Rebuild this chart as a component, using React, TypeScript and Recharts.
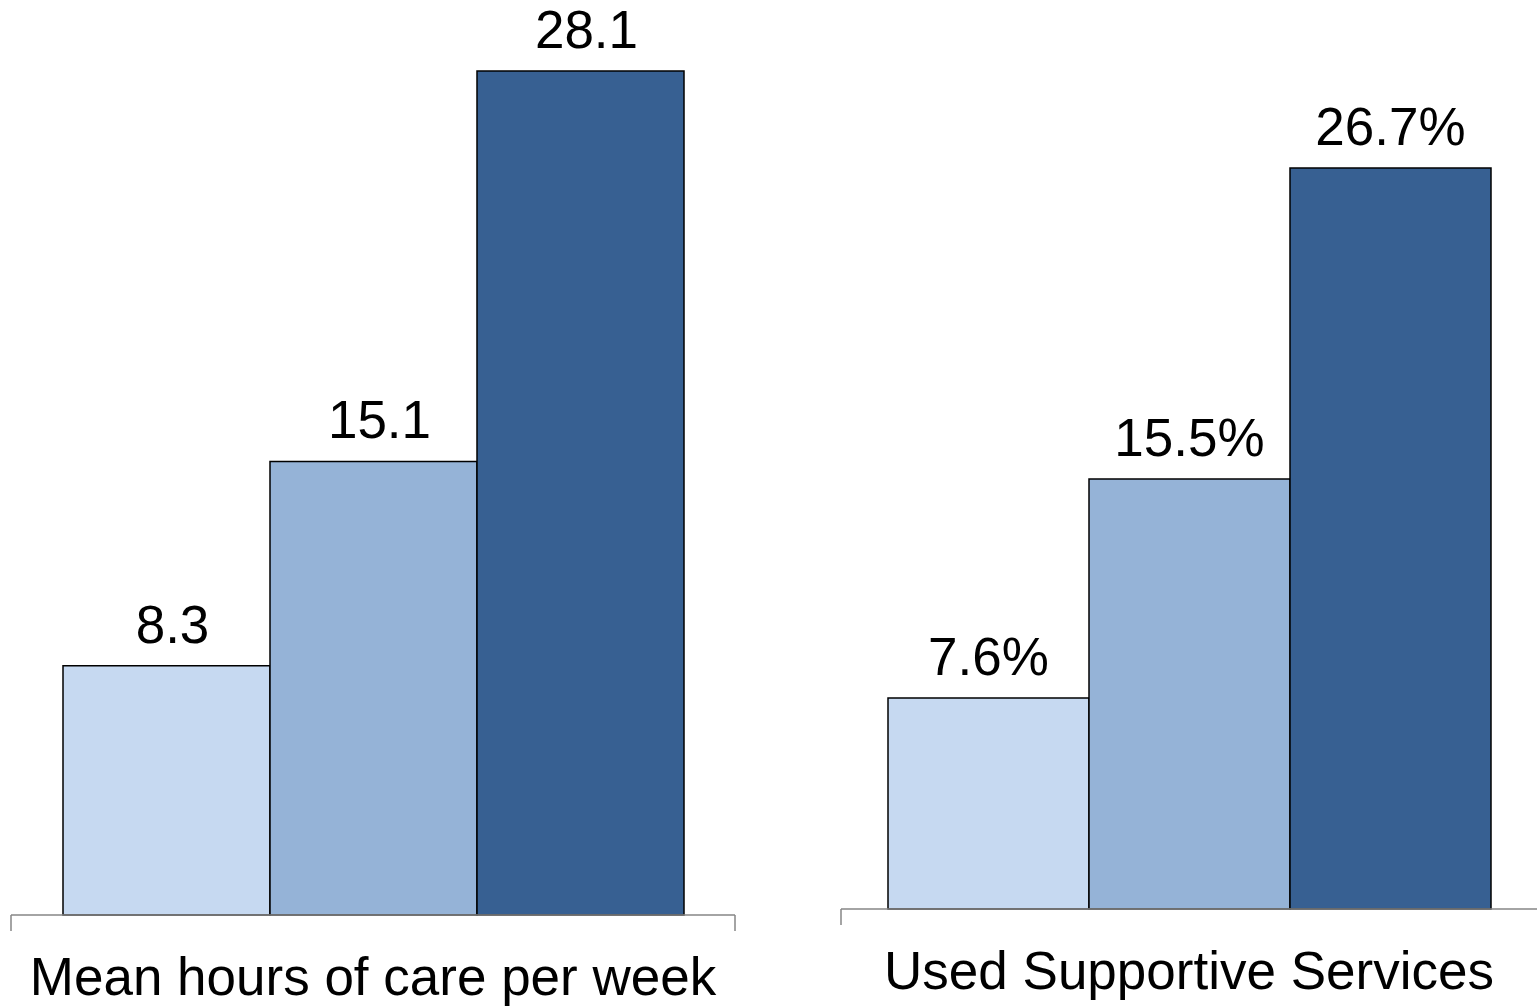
import { Bar, BarChart, LabelList, XAxis, YAxis } from "recharts";

const FONT = '"Liberation Sans", Arial, sans-serif';
const AXIS_GRAY = "#868686";

const hoursCategory = ["Mean hours of care per week"];
const hoursValues = [8.3, 15.1, 28.1];

const servicesCategory = ["Used Supportive Services"];
const servicesValues = [7.6, 15.5, 26.7];

const seriesKeys = ["g1", "g2", "g3"];
const seriesColors = ["#C6D9F1", "#95B3D7", "#376092"];

function buildRow(name: string, values: number[]) {
  const row: Record<string, string | number> = { name };
  seriesKeys.forEach((key, i) => {
    row[key] = values[i];
  });
  return [row];
}

// category name plus the short drop lines at both ends of the band
const CategoryTick = (props: any) => {
  const { x, y, payload, halfBand, rightEdge } = props;
  return (
    <g>
      <line x1={x - halfBand} x2={x - halfBand} y1={y} y2={y + 16} stroke={AXIS_GRAY} strokeWidth={1.5} />
      {rightEdge && (
        <line x1={x + halfBand} x2={x + halfBand} y1={y} y2={y + 16} stroke={AXIS_GRAY} strokeWidth={1.5} />
      )}
      <text x={x} y={y + 80} textAnchor="middle" fontFamily={FONT} fontSize={53} fill="#000">
        {payload.value}
      </text>
    </g>
  );
};

interface PanelProps {
  data: Record<string, string | number>[];
  width: number;
  height: number;
  margin: { top: number; right: number; left: number; bottom: number };
  gap: number;
  labelBelow: number;
  rightEdge: boolean;
  labelShift?: number;
  suffix?: string;
}

function Panel({ data, width, height, margin, gap, labelBelow, rightEdge, labelShift = 0, suffix = "" }: PanelProps) {
  const halfBand = (width - margin.left - margin.right) / 2;
  return (
    <BarChart width={width} height={height} data={data} margin={margin} barGap={0} barCategoryGap={gap}>
      <YAxis hide domain={[0, 30]} />
      <XAxis
        dataKey="name"
        axisLine={{ stroke: AXIS_GRAY, strokeWidth: 1.5 }}
        tickLine={false}
        tickSize={0}
        tickMargin={0}
        height={labelBelow}
        tick={<CategoryTick halfBand={halfBand} rightEdge={rightEdge} />}
        interval={0}
      />
      {seriesKeys.map((key, i) => (
        <Bar
          key={key}
          dataKey={key}
          fill={seriesColors[i]}
          stroke="#000"
          strokeWidth={1.5}
          isAnimationActive={false}
        >
          <LabelList
            dataKey={key}
            position="top"
            offset={23}
            dx={labelShift}
            fontFamily={FONT}
            fontSize={53}
            fill="#000"
            formatter={(v: any) => `${v}${suffix}`}
          />
        </Bar>
      ))}
    </BarChart>
  );
}

export default function App() {
  return (
    <div style={{ position: "absolute", left: 0, top: 0, width: 1537, height: 1007, background: "#fff", overflow: "hidden" }}>
      <div style={{ position: "absolute", left: 0, top: 0 }}>
        <Panel
          data={buildRow(hoursCategory[0], hoursValues)}
          width={760}
          height={1007}
          margin={{ top: 14, right: 25, left: 11, bottom: 0 }}
          gap={52}
          labelBelow={92}
          rightEdge
          labelShift={6}
        />
      </div>
      <div style={{ position: "absolute", left: 780, top: 0 }}>
        <Panel
          data={buildRow(servicesCategory[0], servicesValues)}
          width={757}
          height={1007}
          margin={{ top: 76.5, right: 0, left: 61, bottom: 0 }}
          gap={47}
          labelBelow={98}
          rightEdge={false}
          suffix="%"
        />
      </div>
    </div>
  );
}
